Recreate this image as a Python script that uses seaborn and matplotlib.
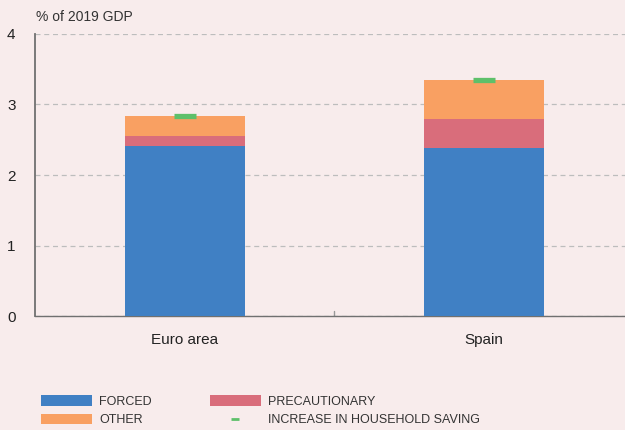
import numpy as np
import pandas as pd
import matplotlib
matplotlib.use("Agg")
import matplotlib.pyplot as plt
import seaborn as sns
from matplotlib.patches import Patch
from matplotlib.lines import Line2D

# values (% of 2019 GDP)
regions = ["Euro area", "Spain"]
forced = [2.41, 2.39]
precautionary = [0.14, 0.41]
other = [0.29, 0.55]
saving_increase = [2.83, 3.35]

BG = "#f8ecec"
BLUE = "#4080c4"
RED = "#d96d7b"
ORANGE = "#f9a062"
GREEN = "#5ec06a"

sns.set_theme(style="white")
plt.rcParams["font.family"] = ["Liberation Sans", "DejaVu Sans"]

df = pd.DataFrame({
    "region": regions,
    "forced": forced,
    "prec_top": np.array(forced) + np.array(precautionary),
    "other_top": np.array(forced) + np.array(precautionary) + np.array(other),
    "saving": saving_increase,
})

fig = plt.figure(figsize=(6.25, 4.3), dpi=100, facecolor=BG)
ax = fig.add_axes([0.056, 0.265, 0.944, 0.656], facecolor=BG)

# stacked bars drawn as overlapping cumulative totals
for col, c in [("other_top", ORANGE), ("prec_top", RED), ("forced", BLUE)]:
    sns.barplot(data=df, x="region", y=col, color=c, width=0.4,
                saturation=1, linewidth=0, ax=ax, zorder=3)
ax.plot(range(len(regions)), df["saving"], linestyle="none", marker="_",
        ms=16, mew=3.8, color=GREEN, zorder=4)

ax.set_xlim(-0.5, 1.47)
ax.set_ylim(0, 4)
ax.set_yticks([0, 1, 2, 3, 4])
ax.yaxis.grid(True, linestyle=(0, (4, 3)), color="#bdbdbd", linewidth=0.9, zorder=0)
ax.set_xlabel("")
ax.set_ylabel("")
ax.tick_params(axis="y", length=0, pad=14, labelsize=11, labelcolor="#222222")
ax.tick_params(axis="x", length=0, pad=12, labelsize=11, labelcolor="#222222")
# small separator tick between the two groups
ax.axvline(0.5, ymin=0, ymax=0.017, color="#999999", linewidth=1, zorder=2)

for s in ["top", "right"]:
    ax.spines[s].set_visible(False)
ax.spines["left"].set_color("#707070")
ax.spines["left"].set_linewidth(1.3)
ax.spines["bottom"].set_color("#707070")
ax.spines["bottom"].set_linewidth(1.0)

fig.text(0.058, 0.945, "% of 2019 GDP", fontsize=10, color="#333333",
         ha="left", va="bottom")

handles = [
    Patch(facecolor=BLUE, edgecolor="none", label="FORCED"),
    Patch(facecolor=ORANGE, edgecolor="none", label="OTHER"),
    Patch(facecolor=RED, edgecolor="none", label="PRECAUTIONARY"),
    Line2D([], [], linestyle="none", marker="_", ms=6, mew=2, color=GREEN,
           label="INCREASE IN HOUSEHOLD SAVING"),
]
fig.legend(handles=handles, ncol=2, loc="lower left", bbox_to_anchor=(0.047, -0.018),
           frameon=False, fontsize=9, handlelength=4.1, handleheight=0.9,
           handletextpad=0.6, columnspacing=4.6, labelspacing=0.5,
           labelcolor="#333333")

fig.savefig("out.png", dpi=100, facecolor=BG)
